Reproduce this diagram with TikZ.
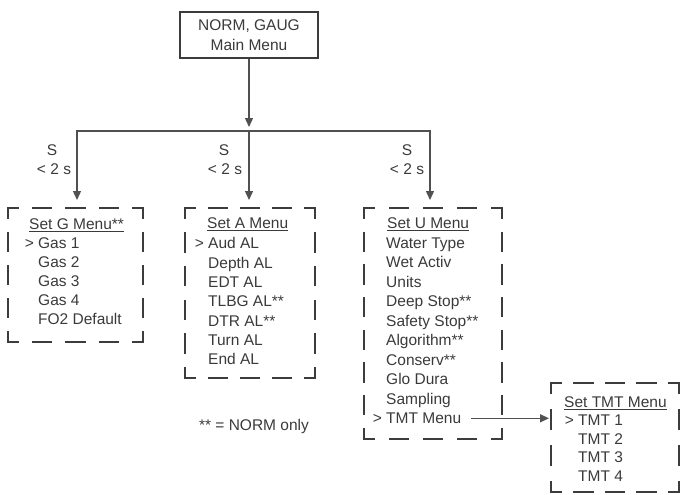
\documentclass[tikz,border=0pt]{standalone}
\usepackage{fontspec}
\setmainfont{Liberation Sans}
\usetikzlibrary{arrows.meta}
\definecolor{ink}{HTML}{3A3A3A}
\definecolor{wire}{HTML}{505050}
\definecolor{frame}{HTML}{3C3C3C}
\tikzset{
  frameline/.style={draw=frame,line width=2.4pt,line cap=rect},
  conn/.style={draw=wire,line width=1.4pt},
  arr/.style={conn,-{Triangle[length=9pt,width=8pt]}},
  txt/.style={text=ink,font=\fontsize{15.5}{19}\selectfont,inner sep=0pt,anchor=base west},
  lbl/.style={text=ink,font=\fontsize{15.5}{19}\selectfont,inner sep=0pt,anchor=base},
}
\newcommand\dashframe[5]{%
  \pgfmathsetmacro\dfW{#4-#2}%
  \pgfmathsetmacro\dfH{#5-#3}%
  \pgfmathsetmacro\dfnW{max(1,round((\dfW-20-14)/32))}%
  \pgfmathsetmacro\dfgW{(\dfW-20-\dfnW*18)/(\dfnW+1)}%
  \pgfmathsetmacro\dfnH{max(1,round((\dfH-20-14)/32))}%
  \pgfmathsetmacro\dfgH{(\dfH-20-\dfnH*18)/(\dfnH+1)}%
  \node[inner sep=0pt,outer sep=0pt,minimum width=\dfW pt,minimum height=\dfH pt,anchor=north west] (#1) at (#2,#3) {};
  \draw[frameline,dash pattern=on 18pt off \dfgW pt,dash phase=8pt] (#1.north west) -- (#1.north east);
  \draw[frameline,dash pattern=on 18pt off \dfgH pt,dash phase=8pt] (#1.north east) -- (#1.south east);
  \draw[frameline,dash pattern=on 18pt off \dfgW pt,dash phase=8pt] (#1.south east) -- (#1.south west);
  \draw[frameline,dash pattern=on 18pt off \dfgH pt,dash phase=8pt] (#1.south west) -- (#1.north west);
}
\begin{document}
\begin{tikzpicture}[x=1pt,y=-1pt]
\useasboundingbox (0,0) rectangle (683,495);

% main box
\node[draw=frame,line width=2.5pt,minimum width=138pt,minimum height=46pt,inner sep=0pt,
      align=center,text=ink,font=\fontsize{15.5}{20}\selectfont] (main) at (249,35)
      {NORM, GAUG\\Main Menu};

% dashed boxes
\dashframe{gbox}{8}{208}{143}{342}
\dashframe{abox}{185}{208}{315}{378}
\dashframe{ubox}{364}{208}{502}{439}
\dashframe{tbox}{551}{383}{679}{492}

% connectors
\coordinate (hub) at (249,131);
\coordinate (hl) at (77,131);
\coordinate (hr) at (430,131);
\draw[conn,line cap=rect] (hl) -- (hr);
\draw[arr,shorten >=4pt] (main.south) -- (hub);
\draw[arr,shorten >=8pt] (hl) -- (hl |- gbox.north);
\draw[arr,shorten >=8pt] (hub) -- (hub |- abox.north);
\draw[arr,shorten >=8pt] (hr) -- (hr |- ubox.north);

% branch labels
\node[lbl] (s1) at (52,155.5) {S};
\node[lbl] (t1) at (54,174.5) {< 2 s};
\node[lbl] (s2) at (224,155.5) {S};
\node[lbl] (t2) at (225,174.5) {< 2 s};
\node[lbl] (s3) at (407,155.5) {S};
\node[lbl] (t3) at (407,174.5) {< 2 s};

% Set G menu
\node[txt] (gt) at (29,229.5) {\underline{Set G Menu**}};
\foreach [count=\i] \t in {{\llap{> }Gas 1},Gas 2,Gas 3,Gas 4,FO2 Default}
  \node[txt] (g\i) at (38,{248.5+19*(\i-1)}) {\t};

% Set A menu
\node[txt] (at) at (207,228.8) {\underline{Set A Menu}};
\foreach [count=\i] \t in {{\llap{> }Aud AL},Depth AL,EDT AL,TLBG AL**,DTR AL**,Turn AL,End AL}
  \node[txt] (a\i) at (208,{248.8+19.3*(\i-1)}) {\t};

% Set U menu
\node[txt] (ut) at (387,228.5) {\underline{Set U Menu}};
\foreach [count=\i] \t in {Water Type,Wet Activ,Units,Deep Stop**,Safety Stop**,Algorithm**,Conserv**,Glo Dura,Sampling,{\llap{> }TMT Menu}}
  \node[txt] (u\i) at (386,{248.5+19.45*(\i-1)}) {\t};

% Set TMT menu
\node[txt] (tt) at (564,407.5) {\underline{Set TMT Menu}};
\foreach [count=\i] \t in {{\llap{> }TMT 1},TMT 2,TMT 3,TMT 4}
  \node[txt] (m\i) at (578,{425.5+18.7*(\i-1)}) {\t};

\draw[arr,shorten >=2pt] ([xshift=10pt]u10.east) -- (u10.east -| tbox.west);

% note
\node[lbl] (note) at (254,430.5) {** = NORM only};
\end{tikzpicture}
\end{document}
